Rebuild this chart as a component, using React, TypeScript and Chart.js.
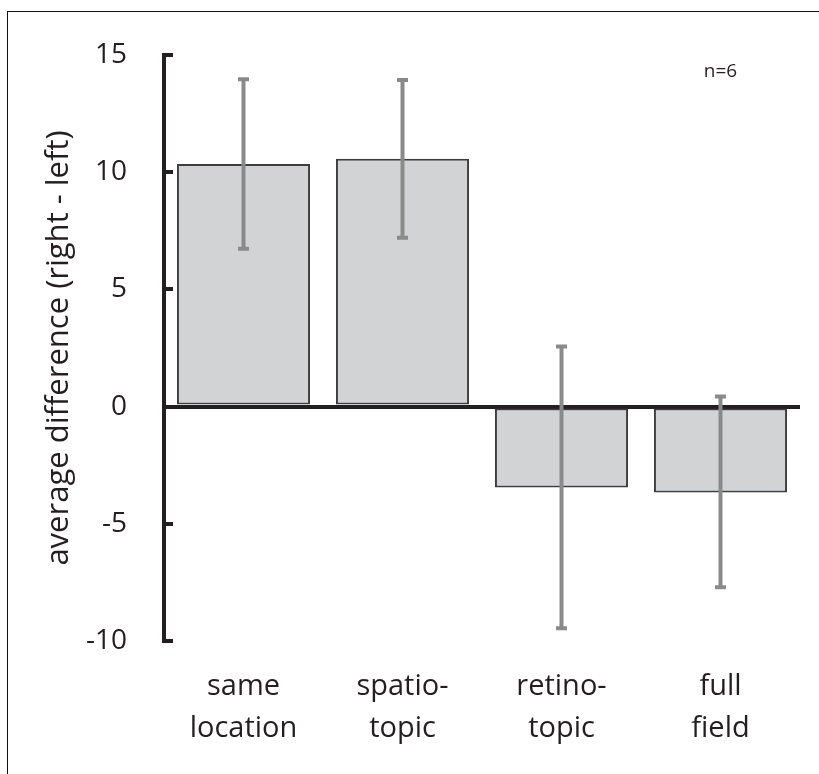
import { useEffect, useRef } from "react";
import { Chart, registerables } from "chart.js";
Chart.register(...registerables);

const CATEGORIES = [["same", "location"], ["spatio-", "topic"], ["retino-", "topic"], ["full", "field"]];
const MEANS = [10.35, 10.57, -3.45, -3.66];
const ERR_HIGH = [13.97, 13.93, 2.56, 0.43];
const ERR_LOW = [6.73, 7.2, -9.46, -7.71];
const Y_TICKS = [-10, -5, 0, 5, 10, 15];
const Y_TITLE = "average difference (right - left)";
const NOTE = "n=6";
const NOTE_AT = { index: 3, value: 14.3 };

const INK = "#231f20";
const FONT = "'Open Sans', 'DejaVu Sans', sans-serif";

// whiskers + note, drawn through the chart's own scales
const errorBars = {
  id: "errorBars",
  afterDatasetsDraw(chart: any) {
    const { ctx, scales } = chart;
    const meta = chart.getDatasetMeta(0);
    ctx.save();
    ctx.strokeStyle = "#898b8a";
    ctx.lineWidth = 4;
    meta.data.forEach((bar: any, i: number) => {
      const yHi = scales.y.getPixelForValue(ERR_HIGH[i]);
      const yLo = scales.y.getPixelForValue(ERR_LOW[i]);
      ctx.beginPath();
      ctx.moveTo(bar.x, yHi); ctx.lineTo(bar.x, yLo);
      ctx.moveTo(bar.x - 5.5, yHi); ctx.lineTo(bar.x + 5.5, yHi);
      ctx.moveTo(bar.x - 5.5, yLo); ctx.lineTo(bar.x + 5.5, yLo);
      ctx.stroke();
    });
    ctx.restore();
  },
  afterDraw(chart: any) {
    const { ctx, scales } = chart;
    ctx.save();
    ctx.font = `19px ${FONT}`;
    ctx.fillStyle = INK;
    ctx.textAlign = "center";
    ctx.textBaseline = "middle";
    ctx.fillText(NOTE, scales.x.getPixelForValue(NOTE_AT.index), scales.y.getPixelForValue(NOTE_AT.value));
    ctx.restore();
  },
};

export default function App() {
  const canvasRef = useRef<HTMLCanvasElement>(null);

  useEffect(() => {
    if (!canvasRef.current) return;
    const chart = new Chart(canvasRef.current, {
      type: "bar",
      data: {
        labels: CATEGORIES as any,
        datasets: [{
          data: MEANS,
          backgroundColor: "#d2d3d5",
          borderColor: "#3d3d3d",
          borderWidth: 2,
          borderSkipped: false,
          categoryPercentage: 1,
          barPercentage: 0.837,
        }],
      },
      options: {
        responsive: false,
        animation: false,
        events: [],
        layout: { padding: { top: 55, right: 19, bottom: 0, left: 0 } },
        plugins: { legend: { display: false }, tooltip: { enabled: false } },
        scales: {
          x: {
            border: { display: false },
            grid: { display: false },
            ticks: { color: INK, font: { family: FONT, size: 29, lineHeight: 1.45 }, padding: 17, maxRotation: 0 },
            afterFit: (s: any) => { s.height = 133; },
          },
          y: {
            min: -10, max: 15,
            z: 1,
            afterBuildTicks: (s: any) => { s.ticks = Y_TICKS.map(v => ({ value: v })); },
            border: { color: INK, width: 4 },
            grid: {
              drawOnChartArea: true,
              color: (c: any) => (c.tick && c.tick.value === 0 ? INK : "rgba(0,0,0,0)"),
              lineWidth: (c: any) => (c.tick && c.tick.value === 0 ? 4 : 0),
              drawTicks: true,
              tickLength: -9,
              tickColor: INK,
              tickWidth: 4,
            },
            ticks: { color: INK, font: { family: FONT, size: 28 }, padding: 46 },
            title: {
              display: true, text: Y_TITLE, color: INK,
              font: { family: FONT, size: 31 },
              padding: { top: 41, bottom: 0 },
            },
            // fixed gutter; tick padding must not push the plot area down
            afterFit: (s: any) => { s.width = 164; s.paddingTop = 0; s.paddingBottom = 0; },
          },
        },
      },
      plugins: [errorBars],
    });
    return () => { chart.destroy(); };
  }, []);

  return (
    <div style={{ position: "absolute", left: 0, top: 0, width: 819, height: 774, background: "#fff", overflow: "hidden" }}>
      <div style={{ position: "absolute", left: 7, top: 11, right: 0, bottom: 0, borderTop: "1.5px solid #111", borderLeft: "1.5px solid #111" }} />
      <canvas ref={canvasRef} width={819} height={774} style={{ position: "absolute", left: 0, top: 0 }} />
    </div>
  );
}
